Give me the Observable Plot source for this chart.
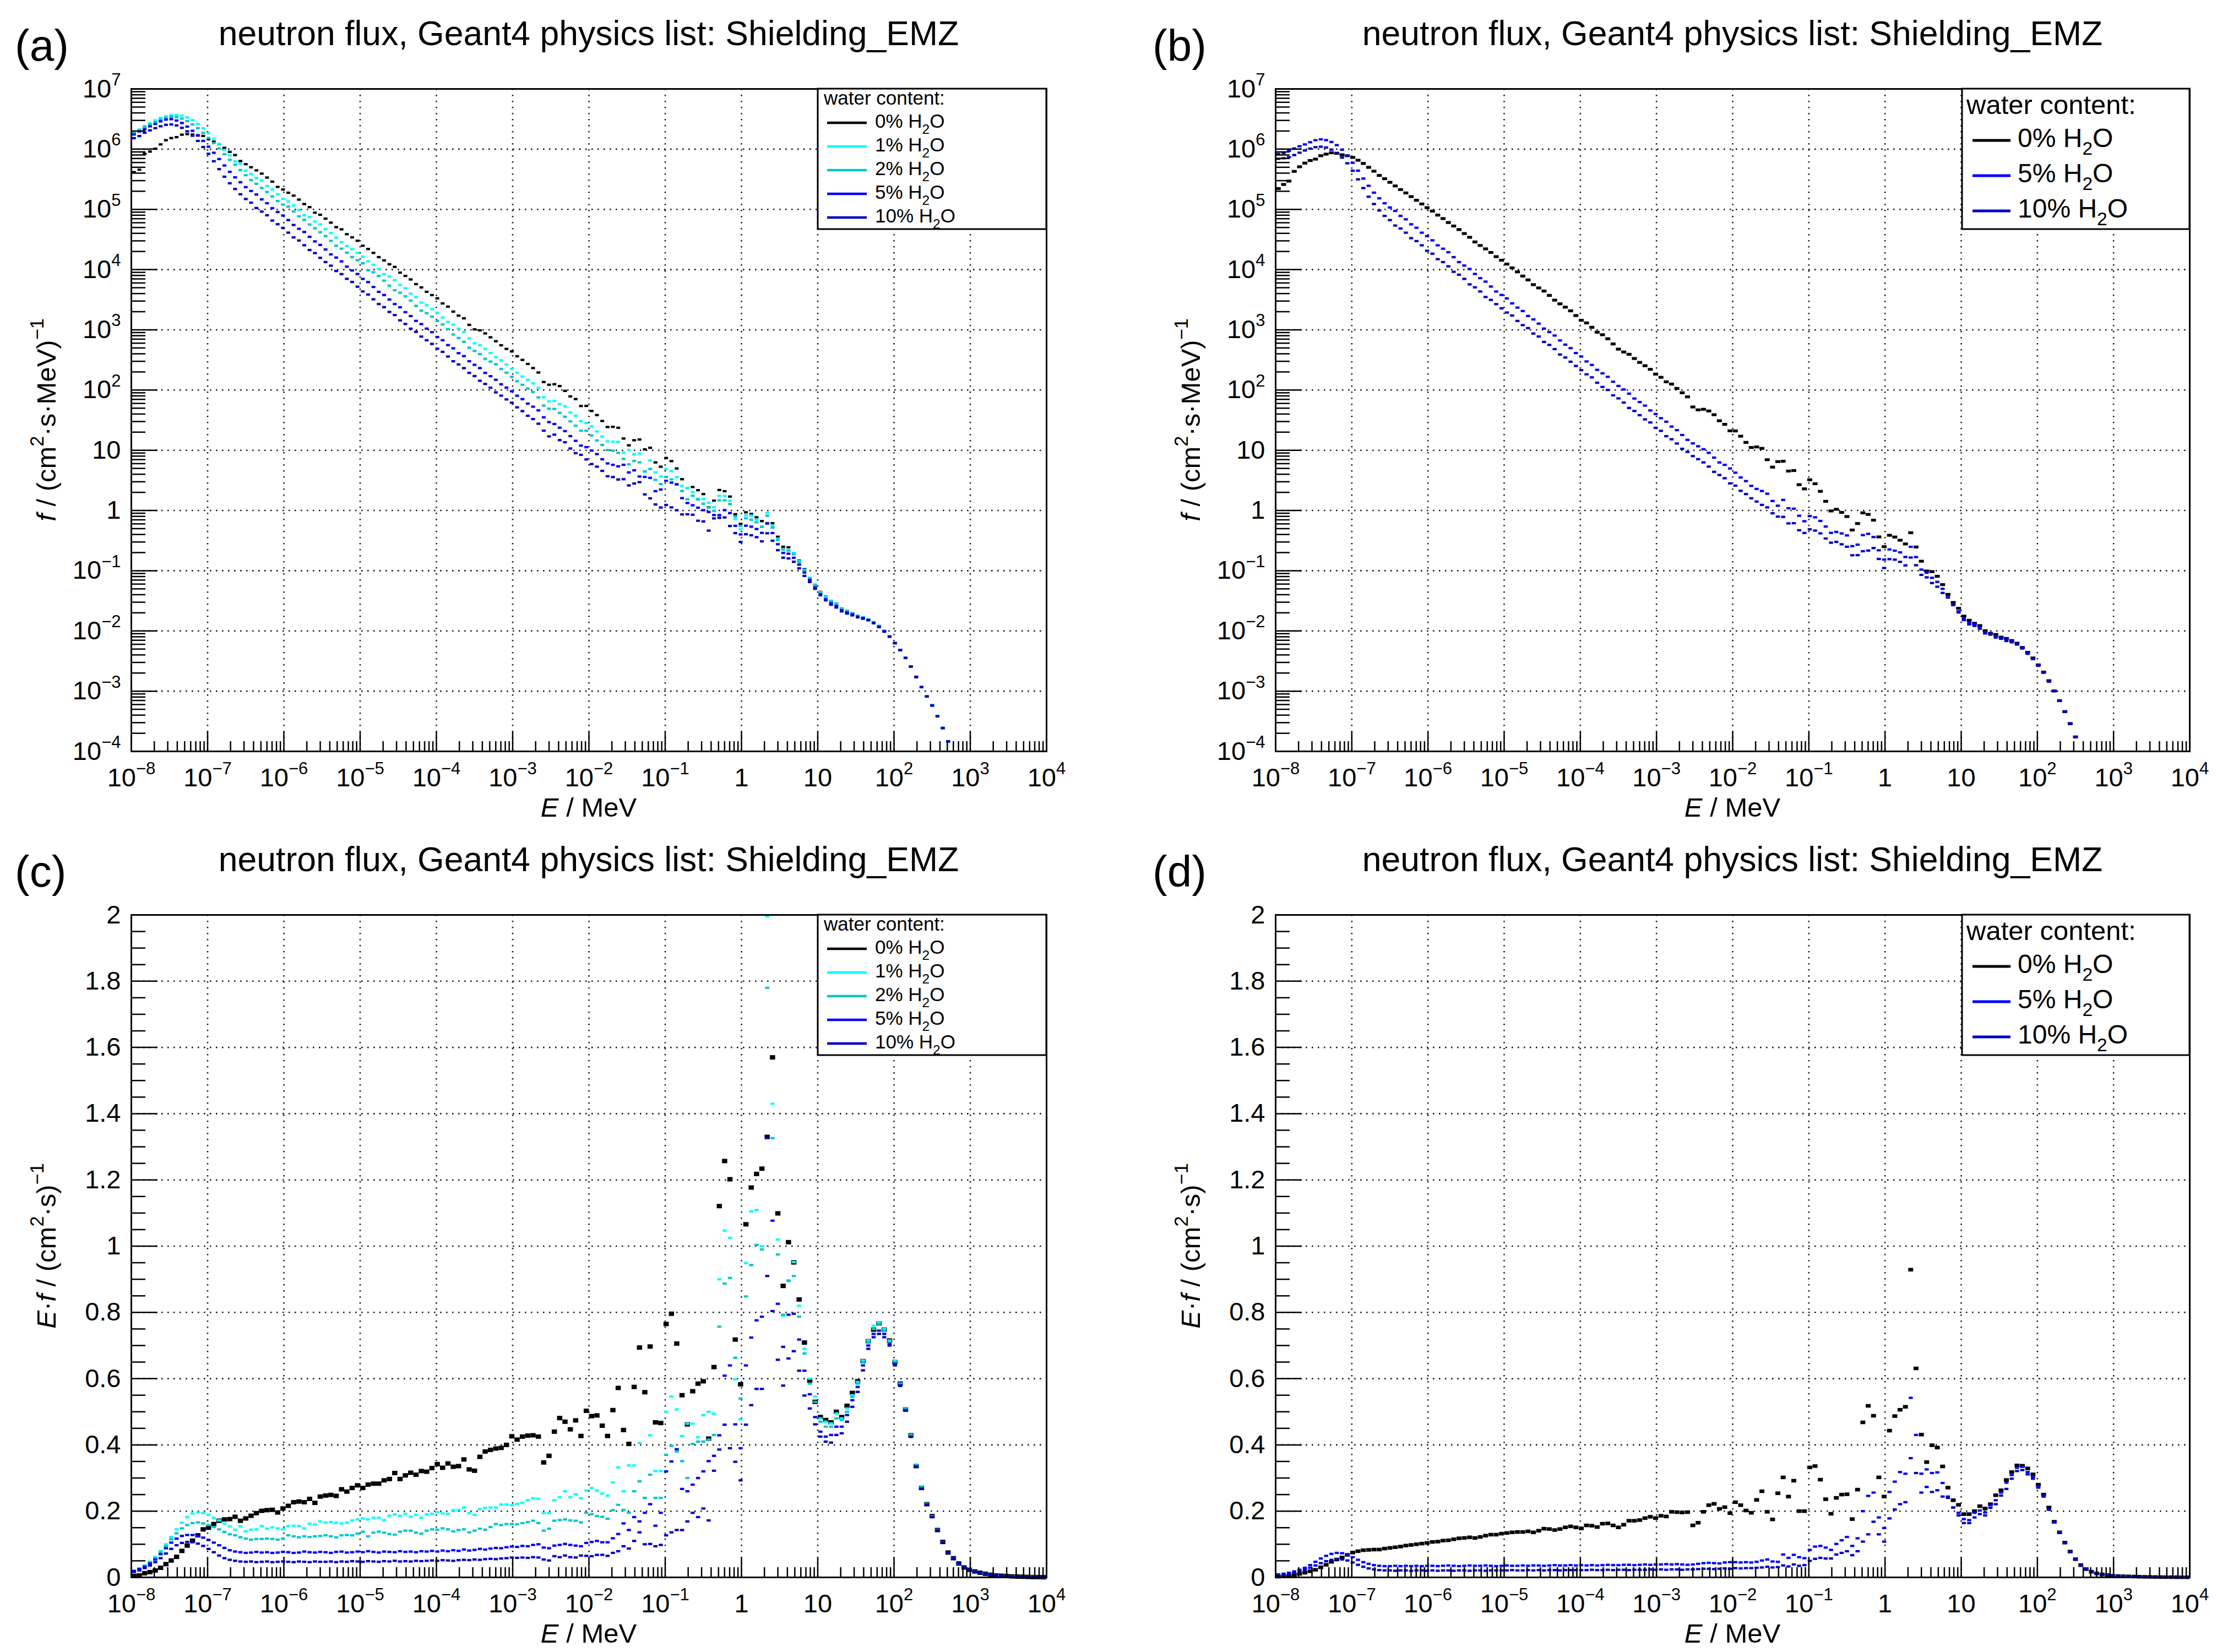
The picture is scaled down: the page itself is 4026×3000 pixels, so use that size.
<!DOCTYPE html>
<html><head><meta charset="utf-8">
<script src="https://cdn.jsdelivr.net/npm/d3@7"></script>
<script src="https://cdn.jsdelivr.net/npm/@observablehq/plot@0.6"></script>
<style>
html,body{margin:0;padding:0;background:#fff;}
body{width:4026px;height:3000px;position:relative;overflow:hidden;}
.panel{position:absolute;width:2013px;height:1500px;}
</style></head><body>
<div id="pa" class="panel" style="left:0;top:0"></div>
<div id="pb" class="panel" style="left:2013px;top:0"></div>
<div id="pc" class="panel" style="left:0;top:1500px"></div>
<div id="pd" class="panel" style="left:2013px;top:1500px"></div>
<script>
// ---------- binning (log-spaced energy bins, 1e-8 .. 1e4 MeV) ----------
const N_BINS = 172, LOG_E_MIN = -8, LOG_E_MAX = 4;
const ENERGY = d3.range(N_BINS).map(i => Math.pow(10, LOG_E_MIN + (i + 0.5) * (LOG_E_MAX - LOG_E_MIN) / N_BINS));

// ---------- E·f values per bin (c) and (d) ----------
// panel (a)/(c) set: 0%, 1%, 2%, 5%, 10% H2O
const efC_0 = [
  0.0045,0.0058,0.0125,0.016,0.021,0.029,0.04,0.051,0.062,0.08,0.096,0.111,0.127,0.145,
  0.15,0.161,0.171,0.175,0.176,0.183,0.171,0.178,0.186,0.194,0.201,0.203,0.204,0.196,0.208,
  0.216,0.227,0.229,0.227,0.237,0.225,0.244,0.247,0.249,0.246,0.266,0.259,0.27,0.278,
  0.27,0.28,0.283,0.283,0.293,0.297,0.315,0.297,0.308,0.316,0.31,0.321,0.319,0.33,
  0.342,0.331,0.344,0.334,0.336,0.356,0.326,0.322,0.364,0.38,0.385,0.389,0.391,0.4,0.426,
  0.416,0.425,0.428,0.429,0.425,0.347,0.367,0.44,0.481,0.47,0.447,0.474,0.427,0.503,
  0.487,0.489,0.458,0.427,0.505,0.572,0.445,0.403,0.575,0.694,0.559,0.697,0.468,0.466,
  0.765,0.796,0.706,0.55,0.462,0.562,0.585,0.592,0.419,0.635,1.121,1.257,1.202,0.718,0.583,
  1.066,1.177,1.218,1.234,1.33,1.57,1.099,0.88,1.012,0.951,0.839,0.709,0.594,0.53,
  0.484,0.475,0.468,0.5,0.484,0.518,0.557,0.592,0.653,0.713,0.748,0.767,0.748,0.715,
  0.65,0.585,0.507,0.429,0.336,0.27,0.221,0.185,0.143,0.107,0.075,0.058,0.042,0.03,0.023,
  0.018,0.014,0.011,0.008,0.006,0.005,0.004,0.003,0.0025,0.002,0.0015,0.001,0.0008,0.0005
];
const efC_1 = [
  0.021,0.027,0.036,0.047,0.062,0.08,0.1,0.122,0.145,0.165,0.182,0.193,0.196,0.194,
  0.189,0.18,0.172,0.162,0.154,0.144,0.154,0.139,0.144,0.145,0.155,0.147,0.151,0.148,0.145,
  0.155,0.156,0.155,0.148,0.162,0.16,0.169,0.166,0.167,0.165,0.163,0.165,0.172,0.175,
  0.178,0.175,0.18,0.18,0.173,0.186,0.19,0.186,0.192,0.183,0.189,0.18,0.19,0.192,
  0.197,0.193,0.192,0.203,0.204,0.211,0.194,0.189,0.206,0.21,0.211,0.211,0.22,0.22,0.218,
  0.222,0.225,0.233,0.239,0.237,0.194,0.194,0.233,0.242,0.26,0.242,0.251,0.239,0.262,
  0.27,0.262,0.253,0.247,0.287,0.332,0.26,0.338,0.338,0.406,0.24,0.429,0.321,0.321,
  0.5,0.546,0.507,0.427,0.464,0.464,0.423,0.49,0.5,0.494,0.9,1.047,1.025,0.598,0.477,
  0.949,1.105,1.109,1.0,1.996,1.43,1.02,0.79,0.897,0.952,0.82,0.69,0.6,0.546,
  0.48,0.47,0.465,0.495,0.48,0.51,0.55,0.59,0.655,0.715,0.76,0.77,0.75,0.715,
  0.655,0.585,0.51,0.43,0.34,0.272,0.222,0.185,0.143,0.107,0.075,0.058,0.042,0.03,0.023,
  0.018,0.014,0.011,0.008,0.006,0.005,0.004,0.003,0.0025,0.002,0.0015,0.001,0.0008,0.0005
];
const efC_2 = [
  0.02,0.026,0.035,0.045,0.058,0.075,0.094,0.115,0.133,0.148,0.158,0.164,0.166,0.163,
  0.158,0.152,0.145,0.137,0.13,0.127,0.121,0.117,0.114,0.116,0.116,0.117,0.116,0.114,0.117,
  0.127,0.124,0.121,0.124,0.122,0.124,0.125,0.127,0.124,0.121,0.127,0.128,0.127,0.132,
  0.138,0.124,0.135,0.138,0.135,0.131,0.129,0.138,0.141,0.141,0.135,0.132,0.141,0.145,
  0.144,0.148,0.145,0.139,0.143,0.145,0.136,0.141,0.147,0.144,0.152,0.161,0.158,0.161,0.161,
  0.16,0.164,0.167,0.171,0.164,0.141,0.147,0.171,0.173,0.175,0.172,0.171,0.166,0.195,
  0.191,0.185,0.183,0.177,0.203,0.219,0.204,0.195,0.26,0.29,0.24,0.31,0.24,0.24,
  0.37,0.397,0.38,0.351,0.3,0.403,0.41,0.41,0.416,0.43,0.757,0.887,0.904,0.663,0.54,
  0.848,0.943,1.004,0.99,1.78,1.326,0.975,0.793,0.895,0.91,0.787,0.676,0.585,0.53,
  0.47,0.455,0.455,0.48,0.475,0.5,0.545,0.585,0.65,0.71,0.75,0.765,0.745,0.71,
  0.65,0.585,0.51,0.43,0.34,0.27,0.222,0.185,0.143,0.107,0.075,0.058,0.042,0.03,0.023,
  0.018,0.014,0.011,0.008,0.006,0.005,0.004,0.003,0.0025,0.002,0.0015,0.001,0.0008,0.0005
];
const efC_5 = [
  0.019,0.025,0.032,0.042,0.054,0.07,0.088,0.105,0.117,0.125,0.128,0.128,0.125,0.12,
  0.113,0.105,0.097,0.089,0.082,0.078,0.076,0.074,0.075,0.077,0.075,0.076,0.074,0.075,0.077,
  0.076,0.074,0.075,0.078,0.076,0.075,0.077,0.076,0.074,0.077,0.078,0.075,0.076,0.078,
  0.076,0.079,0.077,0.075,0.078,0.077,0.076,0.079,0.077,0.078,0.076,0.079,0.078,0.08,
  0.078,0.081,0.079,0.082,0.08,0.084,0.081,0.083,0.086,0.084,0.087,0.089,0.088,0.091,0.093,
  0.092,0.095,0.094,0.098,0.1,0.09,0.088,0.096,0.098,0.101,0.098,0.096,0.094,0.104,
  0.107,0.11,0.106,0.106,0.118,0.131,0.163,0.143,0.182,0.169,0.195,0.221,0.156,0.195,
  0.32,0.35,0.387,0.267,0.26,0.28,0.3,0.32,0.351,0.367,0.429,0.609,0.64,0.462,0.39,
  0.64,0.724,0.776,0.787,1.326,1.077,0.826,0.696,0.793,0.796,0.718,0.624,0.553,0.484,
  0.44,0.425,0.43,0.455,0.455,0.49,0.535,0.575,0.64,0.7,0.735,0.745,0.735,0.705,
  0.645,0.58,0.505,0.425,0.335,0.268,0.22,0.183,0.142,0.106,0.075,0.058,0.042,0.03,0.023,
  0.018,0.014,0.011,0.008,0.006,0.005,0.004,0.003,0.0025,0.002,0.0015,0.001,0.0008,0.0005
];
const efC_10 = [
  0.0165,0.021,0.028,0.036,0.046,0.058,0.072,0.086,0.097,0.104,0.107,0.106,0.102,0.095,
  0.086,0.076,0.066,0.058,0.053,0.05,0.048,0.047,0.048,0.046,0.047,0.048,0.046,0.047,0.048,
  0.047,0.046,0.048,0.047,0.046,0.048,0.047,0.047,0.048,0.046,0.048,0.047,0.049,0.048,
  0.047,0.049,0.048,0.047,0.049,0.048,0.05,0.048,0.049,0.048,0.05,0.049,0.05,0.051,
  0.05,0.052,0.051,0.05,0.052,0.053,0.052,0.054,0.053,0.055,0.056,0.055,0.057,0.058,0.06,
  0.059,0.06,0.059,0.061,0.06,0.054,0.051,0.064,0.061,0.066,0.061,0.06,0.066,0.065,
  0.064,0.068,0.068,0.065,0.074,0.079,0.094,0.087,0.11,0.136,0.1,0.101,0.094,0.098,
  0.127,0.136,0.143,0.143,0.169,0.195,0.182,0.208,0.172,0.322,0.386,0.461,0.39,0.349,0.293,
  0.461,0.52,0.569,0.569,0.91,0.804,0.657,0.579,0.661,0.683,0.624,0.549,0.51,0.462,
  0.425,0.41,0.407,0.43,0.435,0.47,0.515,0.56,0.625,0.69,0.725,0.735,0.725,0.7,
  0.64,0.578,0.503,0.424,0.334,0.267,0.219,0.182,0.142,0.106,0.075,0.058,0.042,0.03,0.023,
  0.018,0.014,0.011,0.008,0.006,0.005,0.004,0.003,0.0025,0.002,0.0015,0.001,0.0008,0.0005
];
// panel (b)/(d) set: 0%, 5%, 10% H2O
const efD_0 = [
  0.0024,0.0033,0.0044,0.0075,0.0105,0.0142,0.0184,0.0228,0.0305,0.038,0.047,0.054,0.06,0.068,
  0.075,0.079,0.082,0.083,0.084,0.084,0.087,0.089,0.091,0.093,0.096,0.098,0.1,0.102,0.104,
  0.107,0.108,0.111,0.112,0.115,0.118,0.119,0.121,0.119,0.122,0.126,0.129,0.129,0.132,
  0.134,0.136,0.137,0.137,0.139,0.136,0.141,0.147,0.146,0.143,0.146,0.151,0.154,0.151,
  0.148,0.157,0.156,0.152,0.162,0.163,0.157,0.151,0.159,0.171,0.171,0.173,0.179,0.183,0.179,
  0.186,0.184,0.198,0.197,0.196,0.197,0.157,0.165,0.198,0.218,0.222,0.207,0.212,0.194,
  0.227,0.218,0.202,0.195,0.234,0.26,0.198,0.175,0.254,0.302,0.244,0.292,0.2,0.2,
  0.332,0.336,0.295,0.236,0.192,0.24,0.25,0.251,0.176,0.265,0.468,0.518,0.488,0.302,0.244,
  0.443,0.487,0.506,0.515,0.929,0.631,0.431,0.348,0.399,0.392,0.335,0.271,0.233,0.219,
  0.191,0.191,0.2,0.215,0.208,0.221,0.248,0.263,0.294,0.318,0.338,0.337,0.329,0.311,
  0.28,0.25,0.211,0.168,0.136,0.105,0.078,0.055,0.037,0.025,0.017,0.012,0.009,0.007,0.005,
  0.004,0.0035,0.003,0.0025,0.002,0.0018,0.0015,0.0012,0.001,0.0008,0.0007,0.0005,0.0004,0.0003
];
const efD_5 = [
  0.009,0.011,0.014,0.018,0.023,0.029,0.037,0.047,0.057,0.065,0.071,0.074,0.073,0.068,
  0.061,0.053,0.046,0.041,0.037,0.035,0.034,0.034,0.035,0.034,0.035,0.034,0.035,0.034,0.035,
  0.035,0.034,0.035,0.036,0.035,0.034,0.035,0.036,0.035,0.035,0.036,0.035,0.034,0.035,
  0.036,0.035,0.035,0.036,0.035,0.036,0.036,0.035,0.036,0.037,0.036,0.036,0.037,0.036,
  0.037,0.036,0.037,0.036,0.037,0.038,0.037,0.037,0.038,0.038,0.037,0.038,0.039,0.038,0.039,
  0.039,0.04,0.039,0.04,0.039,0.038,0.039,0.041,0.043,0.044,0.043,0.042,0.045,0.046,
  0.046,0.045,0.046,0.045,0.047,0.051,0.054,0.048,0.047,0.069,0.059,0.068,0.061,0.058,
  0.083,0.093,0.095,0.09,0.083,0.101,0.112,0.122,0.095,0.118,0.2,0.246,0.256,0.181,0.149,
  0.258,0.289,0.318,0.313,0.542,0.43,0.313,0.326,0.315,0.317,0.285,0.244,0.211,0.195,
  0.176,0.173,0.195,0.202,0.196,0.218,0.233,0.256,0.286,0.309,0.331,0.334,0.318,0.303,
  0.275,0.247,0.206,0.168,0.136,0.105,0.078,0.055,0.037,0.025,0.017,0.012,0.009,0.007,0.005,
  0.004,0.0035,0.003,0.0025,0.002,0.0018,0.0015,0.0012,0.001,0.0008,0.0007,0.0005,0.0004,0.0003
];
const efD_10 = [
  0.0075,0.009,0.011,0.014,0.018,0.023,0.029,0.036,0.043,0.049,0.053,0.055,0.054,0.051,
  0.045,0.038,0.032,0.027,0.024,0.022,0.021,0.021,0.02,0.021,0.021,0.02,0.021,0.021,0.02,
  0.021,0.02,0.021,0.021,0.02,0.021,0.021,0.02,0.021,0.021,0.02,0.021,0.021,0.021,
  0.021,0.022,0.021,0.021,0.022,0.021,0.022,0.021,0.022,0.022,0.021,0.022,0.022,0.022,
  0.022,0.022,0.023,0.022,0.022,0.023,0.022,0.023,0.023,0.022,0.023,0.023,0.023,0.024,0.023,
  0.024,0.023,0.024,0.024,0.023,0.024,0.024,0.025,0.026,0.026,0.025,0.026,0.027,0.026,
  0.028,0.027,0.028,0.028,0.029,0.03,0.032,0.03,0.031,0.036,0.033,0.039,0.035,0.037,
  0.05,0.056,0.059,0.057,0.057,0.069,0.074,0.079,0.067,0.079,0.108,0.13,0.168,0.13,0.108,
  0.178,0.205,0.221,0.227,0.36,0.315,0.256,0.273,0.258,0.263,0.244,0.24,0.211,0.187,
  0.164,0.164,0.181,0.191,0.187,0.21,0.221,0.247,0.267,0.298,0.321,0.324,0.311,0.298,
  0.271,0.244,0.204,0.166,0.135,0.104,0.077,0.055,0.037,0.025,0.017,0.012,0.009,0.007,0.005,
  0.004,0.0035,0.003,0.0025,0.002,0.0018,0.0015,0.0012,0.001,0.0008,0.0007,0.0005,0.0004,0.0003
];

// ---------- labels / categories ----------
const TITLE = "neutron flux, Geant4 physics list: Shielding_EMZ";
const WATER_C = ["0%", "1%", "2%", "5%", "10%"];
const WATER_D = ["0%", "5%", "10%"];
const COLORS = {"0%": "#000000", "1%": "#00ffff", "2%": "#00c8c8", "5%": "#0000ff", "10%": "#0000c4"};

// ---------- ticks ----------
const X_MAJOR = [1e-8,1e-7,1e-6,1e-5,1e-4,1e-3,1e-2,1e-1,1,10,100,1000,10000];
const Y_MAJOR_LOG = [1e-4,1e-3,1e-2,1e-1,1,10,100,1e3,1e4,1e5,1e6,1e7];
const Y_MAJOR_LIN = [0,0.2,0.4,0.6,0.8,1,1.2,1.4,1.6,1.8,2];
const minorLog = (majors) => majors.slice(0, -1).flatMap(m => [2,3,4,5,6,7,8,9].map(k => k * m));
const X_MINOR = minorLog(X_MAJOR);
const Y_MINOR_LOG = minorLog(Y_MAJOR_LOG);
const Y_MINOR_LIN = d3.range(0, 41).filter(k => k % 4 !== 0).map(k => k * 0.05);

const FONT = "'Liberation Sans', Arial, Helvetica, sans-serif";
const allSeries = {efC_0, efC_1, efC_2, efC_5, efC_10, efD_0, efD_5, efD_10};
for (const [k, v] of Object.entries(allSeries)) if (v.length !== N_BINS) throw new Error(k + " has length " + v.length);

function fmtPow(d) {
  const e = Math.round(Math.log10(d));
  if (e === 0) return "1";
  if (e === 1) return "10";
  return "10^" + (e < 0 ? "\u2212" + (-e) : String(e));
}
function fmtLin(d) {
  const r = Math.round(d * 10) / 10;
  return Number.isInteger(r) ? String(r) : r.toFixed(1);
}
function rectSym(w, h) {
  return {draw(ctx) { ctx.moveTo(-w/2, -h/2); ctx.lineTo(w/2, -h/2); ctx.lineTo(w/2, h/2); ctx.lineTo(-w/2, h/2); ctx.closePath(); }};
}
function addRich(svg, {x, y, size, anchor = "start", rotate = 0, parts}) {
  const t = svg.append("text").attr("font-size", size).attr("text-anchor", anchor)
    .attr("font-family", FONT).attr("fill", "#000");
  if (rotate) t.attr("transform", `translate(${x},${y}) rotate(${rotate})`);
  else t.attr("x", x).attr("y", y);
  let shift = 0;
  for (const p of parts) {
    const ts = t.append("tspan").text(p.t);
    const target = p.sup ? -0.45 * size : p.sub ? 0.3 * size : 0;
    if (target !== shift) { ts.attr("dy", target - shift); shift = target; }
    if (p.sup || p.sub) ts.attr("font-size", size * 0.7);
    if (p.it) ts.attr("font-style", "italic");
  }
  return t;
}
function supify(svgNode, size) {
  d3.select(svgNode).selectAll('g[aria-label$="tick label"] text').each(function() {
    const s = this.textContent;
    const m = s.match(/^10\^(.+)$/);
    if (!m) return;
    this.textContent = "10";
    const ts = document.createElementNS("http://www.w3.org/2000/svg", "tspan");
    ts.setAttribute("font-size", size * 0.66);
    ts.setAttribute("dy", -0.46 * size);
    ts.textContent = m[1];
    this.appendChild(ts);
  });
}

const LEG_A = {x0:1485, x1:1900, y0:161, y1:416, headX:1496, headY:190, head:35, sw0:1502, sw1:1574, tx:1589, row0:223, dRow:43, size:35, off:9, sw:4.5};
const LEG_B = {x0:1550, x1:1963, y0:161, y1:416, headX:1558, headY:207, head:49, sw0:1569, sw1:1638, tx:1651, row0:255, dRow:64, size:48, off:12, sw:5};

function buildPanel(cfg) {
  const W = 2013, H = 1500, mT = 161, mB = 136;
  const {mL, mR, logY} = cfg;
  const yMajor = logY ? Y_MAJOR_LOG : Y_MAJOR_LIN;
  const yMinor = logY ? Y_MINOR_LOG : Y_MINOR_LIN;
  const yDomain = logY ? [1e-4, 1e7] : [0, 2];
  const gridStyle = {stroke: "#000", strokeOpacity: 0.9, strokeWidth: 2.6, strokeDasharray: "2.6,8.4"};
  const marks = [Plot.gridX(X_MAJOR, gridStyle), Plot.gridY(yMajor, gridStyle)];
  cfg.series.forEach((s) => {
    const pts = s.values.map((v, i) => ({E: ENERGY[i], y: logY ? v / ENERGY[i] : v}))
      .filter(d => d.y >= yDomain[0] && d.y <= yDomain[1]);
    marks.push(Plot.dot(pts, {x: "E", y: "y", fill: COLORS[s.key], stroke: "none", symbol: rectSym(s.w, s.h)}));
  });
  const tickStyle = {strokeWidth: 2.5, tickFormat: () => "", label: null};
  marks.push(
    Plot.axisX({ticks: X_MINOR, tickSize: -18, ...tickStyle}),
    Plot.axisX({ticks: X_MAJOR, tickSize: -35, ...tickStyle}),
    Plot.axisX({ticks: X_MAJOR, tickSize: 0, tickPadding: 30, tickFormat: fmtPow, fontSize: 47, label: null}),
    Plot.axisY({ticks: yMinor, tickSize: -26, ...tickStyle}),
    Plot.axisY({ticks: yMajor, tickSize: -48, ...tickStyle}),
    Plot.axisY({ticks: yMajor, tickSize: 0, tickPadding: 19, tickFormat: logY ? fmtPow : fmtLin, fontSize: 47, label: null}),
    Plot.frame({stroke: "#000", strokeWidth: 3})
  );
  const chart = Plot.plot({
    width: W, height: H, marginTop: mT, marginBottom: mB, marginLeft: mL, marginRight: mR,
    x: {type: "log", domain: [1e-8, 1e4]},
    y: logY ? {type: "log", domain: yDomain} : {type: "linear", domain: yDomain},
    style: {background: "#fff", fontFamily: FONT, color: "#000"},
    marks
  });
  supify(chart, 47);
  const svg = d3.select(chart);
  const cx = mL + (W - mL - mR) / 2;
  const cy = mT + (H - mT - mB) / 2;
  // panel letter and title
  svg.append("text").attr("x", cfg.letterX).attr("y", 110).attr("font-size", 80)
    .attr("text-anchor", "start").attr("font-family", FONT).text(cfg.letter);
  svg.append("text").attr("x", cx).attr("y", 82).attr("font-size", 62.5).attr("text-anchor", "middle")
    .attr("font-family", FONT).text(TITLE);
  // axis titles
  addRich(svg, {x: cx, y: H - mB + 119, size: 49, anchor: "middle",
    parts: [{t: "E", it: true}, {t: " / MeV"}]});
  const yParts = logY
    ? [{t: "f", it: true}, {t: " / (cm"}, {t: "2", sup: true}, {t: "\u00b7s\u00b7MeV)"}, {t: "\u22121", sup: true}]
    : [{t: "E", it: true}, {t: "\u00b7"}, {t: "f", it: true}, {t: " / (cm"}, {t: "2", sup: true}, {t: "\u00b7s)"}, {t: "\u22121", sup: true}];
  addRich(svg, {x: mL - 137, y: cy, size: 49, anchor: "middle", rotate: -90, parts: yParts});
  // legend
  const L = cfg.legend;
  const g = svg.append("g");
  g.append("rect").attr("x", L.x0).attr("y", L.y0).attr("width", L.x1 - L.x0).attr("height", L.y1 - L.y0)
    .attr("fill", "#fff").attr("stroke", "#000").attr("stroke-width", 3);
  g.append("text").attr("x", L.headX).attr("y", L.headY).attr("font-size", L.head)
    .attr("text-anchor", "start").attr("font-family", FONT).text("water content:");
  cfg.series.forEach((s, k) => {
    const yy = L.row0 + k * L.dRow;
    g.append("line").attr("x1", L.sw0).attr("x2", L.sw1).attr("y1", yy).attr("y2", yy)
      .attr("stroke", COLORS[s.key]).attr("stroke-width", L.sw);
    addRich(g, {x: L.tx, y: yy + L.off, size: L.size, parts: [{t: s.key + " H"}, {t: "2", sub: true}, {t: "O"}]});
  });
  document.getElementById(cfg.id).appendChild(chart);
}

const sC = (w, h, wb, hb) => [
  {key: "0%", values: efC_0, w: wb, h: hb},
  {key: "1%", values: efC_1, w, h},
  {key: "2%", values: efC_2, w, h},
  {key: "5%", values: efC_5, w, h},
  {key: "10%", values: efC_10, w, h}
];
const sD = (w, h, wb, hb) => [
  {key: "0%", values: efD_0, w: wb, h: hb},
  {key: "5%", values: efD_5, w, h},
  {key: "10%", values: efD_10, w, h}
];

buildPanel({id: "pa", mL: 238, mR: 113, logY: true, letter: "(a)", letterX: 27, legend: LEG_A, series: sC(7, 4.2, 7, 4.2)});
buildPanel({id: "pb", mL: 303, mR: 50, logY: true, letter: "(b)", letterX: 80, legend: LEG_B, series: sD(7.5, 4.2, 9, 5.2)});
buildPanel({id: "pc", mL: 238, mR: 113, logY: false, letter: "(c)", letterX: 27, legend: LEG_A, series: sC(7.5, 4.2, 9.5, 8)});
buildPanel({id: "pd", mL: 303, mR: 50, logY: false, letter: "(d)", letterX: 80, legend: LEG_B, series: sD(7.5, 4.2, 9, 6.5)});
</script>
</body></html>
